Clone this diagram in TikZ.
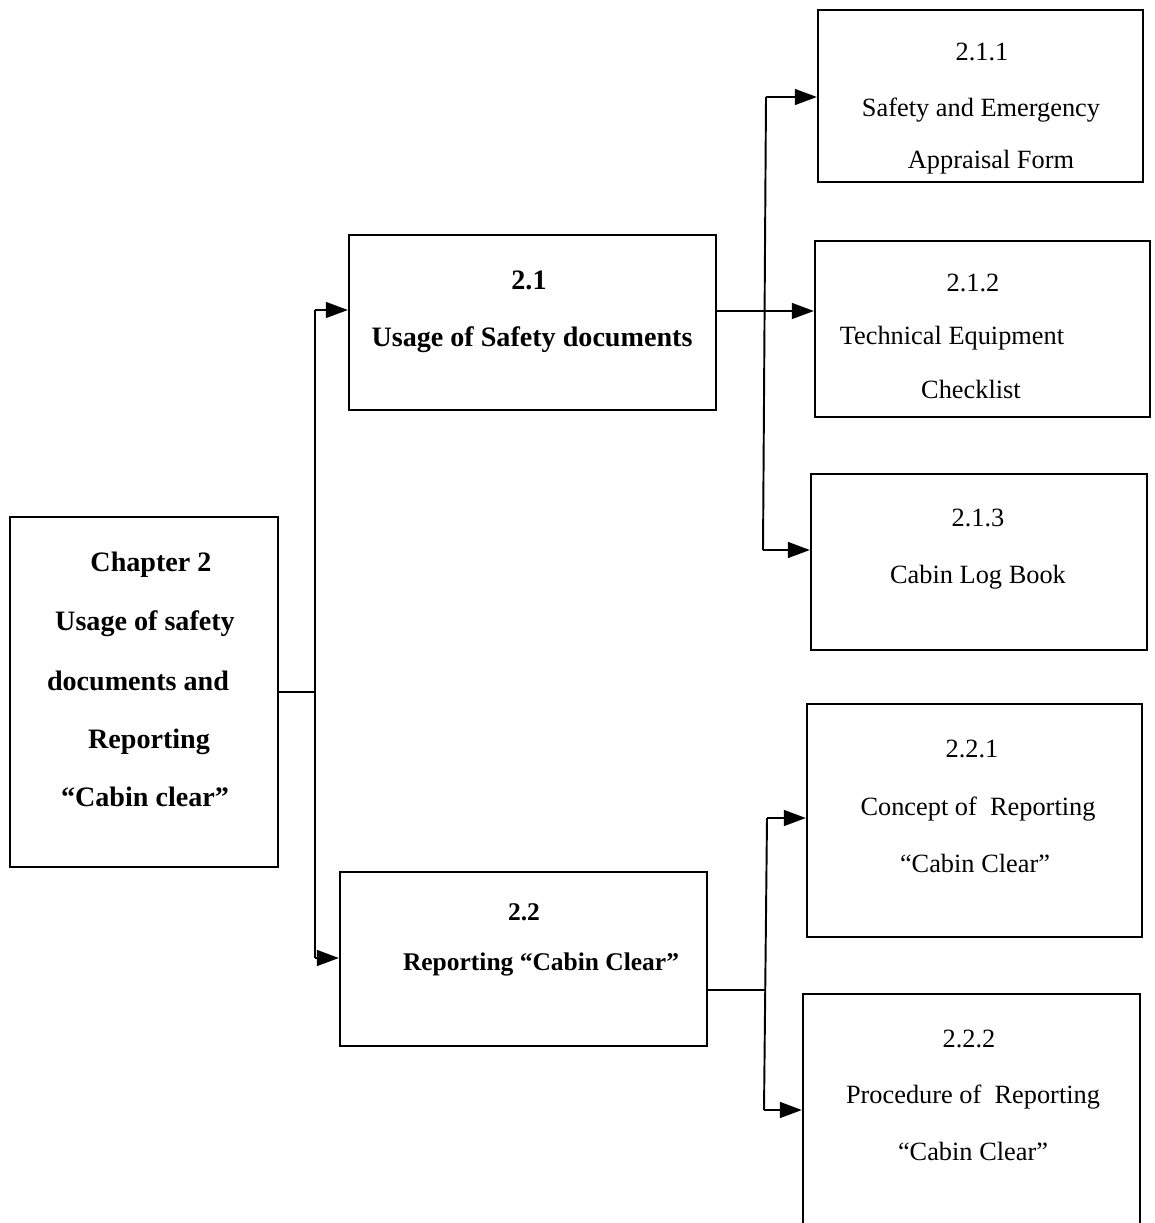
\documentclass[tikz,border=0pt]{standalone}
\usepackage{fontspec}
\setmainfont{Liberation Serif}
\usetikzlibrary{fit,arrows.meta}
\begin{document}
\begin{tikzpicture}[x=0.02cm,y=-0.02cm,
  box/.style={draw,line width=1.3pt,inner sep=0pt},
  reg/.style={anchor=base,inner sep=0pt,font=\fontsize{15}{18}\selectfont},
  bld/.style={anchor=base,inner sep=0pt,font=\fontsize{16}{19}\bfseries\selectfont},
  bldsm/.style={anchor=base,inner sep=0pt,font=\fontsize{14.5}{18}\bfseries\selectfont},
  arr/.style={-{Triangle[length=12.5pt,width=9pt]}},
  line width=1.1pt]
\clip (0,0) rectangle (1155,1223);
\useasboundingbox (0,0) rectangle (1155,1223);
% boxes
\node[box,fit={(10,517) (278,867)}] (ch) {};
\node[box,fit={(349,235) (716,410)}] (s21) {};
\node[box,fit={(340,872) (707,1046)}] (s22) {};
\node[box,fit={(818,10) (1143,182)}] (s211) {};
\node[box,fit={(815,241) (1150,417)}] (s212) {};
\node[box,fit={(811,474) (1147,650)}] (s213) {};
\node[box,fit={(807,704) (1142,937)}] (s221) {};
\node[box,fit={(803,994) (1140,1262)}] (s222) {};
% texts
\node[bld] (cha) at (151,571) {Chapter 2};
\node[bld] (chb) at (145,630) {Usage of safety};
\node[bld] (chc) at (138,690) {documents and};
\node[bld] (chd) at (149,748) {Reporting};
\node[bld] (che) at (145,806) {“Cabin clear”};
\node[bld] (s21a) at (529,289) {2.1};
\node[bld] (s21b) at (532,346) {Usage of Safety documents};
\node[bldsm] (s22a) at (524,920) {2.2};
\node[bldsm] (s22b) at (541,970) {Reporting “Cabin Clear”};
\node[reg] (s211a) at (982,61) {2.1.1};
\node[reg] (s211b) at (981,117) {Safety and Emergency};
\node[reg] (s211c) at (991,169) {Appraisal Form};
\node[reg] (s212a) at (973,291) {2.1.2};
\node[reg] (s212b) at (952,344) {Technical Equipment};
\node[reg] (s212c) at (971,398) {Checklist};
\node[reg] (s213a) at (978,526) {2.1.3};
\node[reg] (s213b) at (978,583) {Cabin Log Book};
\node[reg] (s221a) at (972,757) {2.2.1};
\node[reg] (s221b) at (978,815) {Concept of \ Reporting};
\node[reg] (s221c) at (975,872) {“Cabin Clear”};
\node[reg] (s222a) at (969,1047) {2.2.2};
\node[reg] (s222b) at (973,1103) {Procedure of \ Reporting};
\node[reg] (s222c) at (973,1160) {“Cabin Clear”};
% junction points
\coordinate (a) at (315,310);
\coordinate (b) at (315,958);
\coordinate (c) at (766,97);
\coordinate (d) at (763,550);
\coordinate (g) at (765,311);
\coordinate (e) at (767,818);
\coordinate (f) at (764,1110);
\coordinate (h) at (765,990);
% connectors
\draw (ch.east) -- (ch.east -| a);
\draw (a) -- (b);
\draw[arr] (a) -- (a -| s21.west);
\draw[arr] (b) -- (b -| s22.west);
\draw (s21.east |- g) -- (g);
\draw[arr] (g) -- (g -| s212.west);
\draw (c) -- (d);
\draw[arr] (c) -- (c -| s211.west);
\draw[arr] (d) -- (d -| s213.west);
\draw (s22.east |- h) -- (h);
\draw (e) -- (f);
\draw[arr] (e) -- (e -| s221.west);
\draw[arr] (f) -- (f -| s222.west);
\end{tikzpicture}
\end{document}
